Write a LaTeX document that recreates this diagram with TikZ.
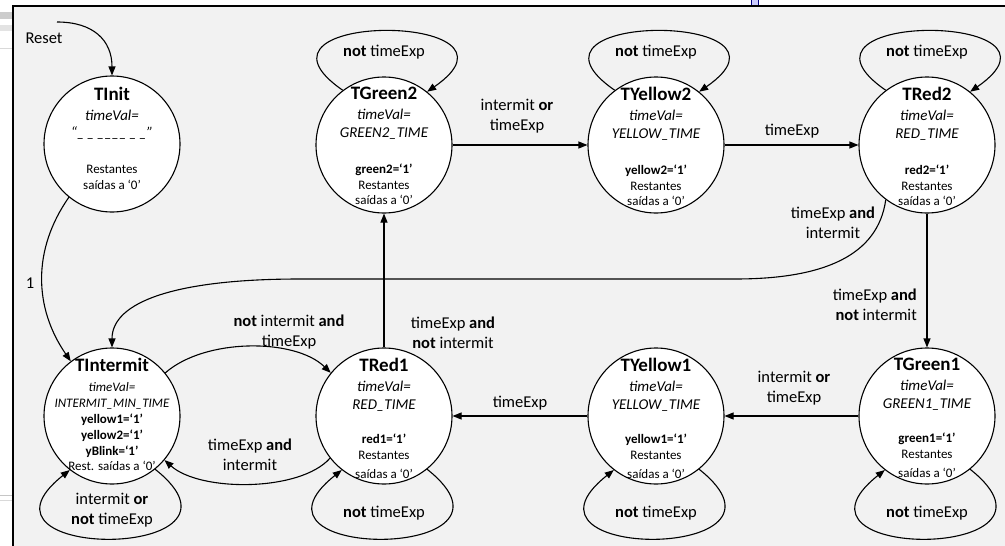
\documentclass[tikz,border=0pt]{standalone}
\usepackage{fontspec}
\setmainfont{Carlito}
\usetikzlibrary{arrows.meta,calc}
\newcommand\sttl[1]{{\fontsize{19}{19}\selectfont\bfseries #1}}
\newcommand\stit[1]{{\fontsize{15}{15}\selectfont\itshape #1}}
\newcommand\stis[1]{{\fontsize{13}{13}\selectfont\itshape #1}}
\begin{document}
\begin{tikzpicture}[x=1pt,y=1pt,
  state/.style={circle,draw,fill=white,minimum size=136pt,inner sep=0pt,line width=1.1pt},
  stxt/.style={align=center,inner sep=0pt,anchor=north,font=\fontsize{13}{15.5}\selectfont},
  edge/.style={draw,line width=1.1pt,-{Triangle[length=9pt,width=7pt]}},
  lbl/.style={align=center,inner sep=0pt,font=\fontsize{16.5}{20}\selectfont},
]
\useasboundingbox (0,0) rectangle (1005,-546);
\fill[white] (0,0) rectangle (1005,-546);
% window chrome at the left
\fill[gray!40] (0,-12) rectangle (13,-19);
\fill[gray!22] (0,-25) rectangle (13,-31);
\draw[gray!30,line width=0.6pt] (0,-48) -- (13,-48);
\draw[gray!45,line width=0.8pt] (0,-495) -- (13,-495);
\draw[gray!30,line width=0.8pt] (0,-500) -- (13,-500);
\fill[blue!20] (751,0) rectangle (758,-6);
\draw[blue!50!black,line width=0.6pt] (751,0) -- (751,-6) (758,0) -- (758,-6);
% panel
\fill[black!5] (13,-6) rectangle (1010,-550);
\draw[line width=2pt] (13,-550) -- (13,-6) -- (1010,-6);

% states
\node[state] (tinit) at (112,-144) {};
\node[state] (tg2) at (384,-145) {};
\node[state] (ty2) at (656,-145) {};
\node[state] (tr2) at (927,-145) {};
\node[state] (tint) at (112,-416) {};
\node[state] (tr1) at (384,-416) {};
\node[state] (ty1) at (656,-416) {};
\node[state] (tg1) at (927,-416) {};

\node[stxt] (tinitT) at (112,-87) {\sttl{TInit}\\[4.5pt]\stit{timeVal=}\\[1.5pt]\stit{“\_\,\_\,\_\_\_\_\,\_\,\_”}\\[20.5pt]Restantes\\saídas a ‘0’};
\node[stxt] (tg2T) at (384,-87) {\sttl{TGreen2}\\[4.5pt]\stit{timeVal=}\\[2.5pt]\stit{GREEN2\_TIME}\\[20.5pt]\textbf{green2=‘1’}\\Restantes\\saídas a ‘0’};
\node[stxt] (ty2T) at (656,-87) {\sttl{TYellow2}\\[4.5pt]\stit{timeVal=}\\[2.5pt]\stit{YELLOW\_TIME}\\[20.5pt]\textbf{yellow2=‘1’}\\Restantes\\saídas a ‘0’};
\node[stxt] (tr2T) at (927,-87) {\sttl{TRed2}\\[4.5pt]\stit{timeVal=}\\[2.5pt]\stit{RED\_TIME}\\[20.5pt]\textbf{red2=‘1’}\\Restantes\\saídas a ‘0’};
\node[stxt] (tintT) at (112,-358) {\sttl{TIntermit}\\[4.5pt]\stis{timeVal=}\\[0.5pt]\stis{INTERMIT\_MIN\_TIME}\\[0.5pt]\textbf{yellow1=‘1’}\\[0.5pt]\textbf{yellow2=‘1’}\\\textbf{yBlink=‘1’}\\Rest. saídas a ‘0’};
\node[stxt] (tr1T) at (384,-358) {\sttl{TRed1}\\[4.5pt]\stit{timeVal=}\\[2.5pt]\stit{RED\_TIME}\\[18.5pt]\textbf{red1=‘1’}\\Restantes\\[3.5pt]saídas a ‘0’};
\node[stxt] (ty1T) at (656,-358) {\sttl{TYellow1}\\[4.5pt]\stit{timeVal=}\\[2.5pt]\stit{YELLOW\_TIME}\\[18.5pt]\textbf{yellow1=‘1’}\\Restantes\\[3.5pt]saídas a ‘0’};
\node[stxt] (tg1T) at (927,-358) {\sttl{TGreen1}\\[4.5pt]\stit{timeVal=}\\[2.5pt]\stit{GREEN1\_TIME}\\[18.5pt]\textbf{green1=‘1’}\\Restantes\\[3.5pt]saídas a ‘0’};

% reset
\coordinate (rs) at (57,-22);
\node[lbl] (rsl) at (44,-38) {Reset};
\draw[edge] (rs) .. controls (93,-22) and (112,-40) .. (tinit.north);

% TInit -> TIntermit
\draw[edge] (tinit.231) .. controls (32,-250) and (34,-308) .. (tint.127);
\node[lbl] (l1) at (30,-283) {1};

% top row
\draw[edge] (tg2) -- (ty2);
\node[lbl] (lg2y2) at (517,-116) {intermit \textbf{or}\\timeExp};
\draw[edge] (ty2) -- (tr2);
\node[lbl] (ly2r2) at (792,-131) {timeExp};

% TRed2 -> TGreen1
\draw[edge] (tr2) -- (tg1);
\node[lbl,align=right,anchor=east] (lr2g1) at (917,-305) {timeExp \textbf{and}\\\textbf{not} intermit};

% TRed2 -> TIntermit
\coordinate (a1) at (735,-279);
\coordinate (a2) at (300,-279);
\draw[edge] (tr2.233) .. controls (878,-255) and (825,-279) .. (a1) -- (a2) .. controls (175,-279) and (112,-302) .. (tint.north);
\node[lbl] (lr2i) at (833,-223) {timeExp \textbf{and}\\intermit};

% bottom row
\draw[edge] (tg1) -- (ty1);
\node[lbl] (lg1y1) at (794,-388) {intermit \textbf{or}\\timeExp};
\draw[edge] (ty1) -- (tr1);
\node[lbl] (ly1r1) at (520,-403) {timeExp};

% TRed1 -> TGreen2
\draw[edge] (tr1) -- (tg2);
\node[lbl] (lr1g2) at (453,-333) {timeExp \textbf{and}\\\textbf{not} intermit};

% TIntermit <-> TRed1
\draw[edge] (tint.39) .. controls (205,-338) and (295,-338) .. (tr1.141);
\node[lbl] (lir1) at (289,-332) {\textbf{not} intermit \textbf{and}\\timeExp};
\draw[edge] (tr1.218) .. controls (300,-492) and (200,-492) .. (tint.320);
\node[lbl] (lr1i) at (250,-455) {timeExp \textbf{and}\\intermit};

% self loops, top
\foreach \n in {tg2,ty2,tr2}{
  \draw[edge] (\n.127) .. controls +(-116,80) and +(116,80) .. (\n.51);
}
\node[lbl] (sg2) at (384,-52) {\textbf{not} timeExp};
\node[lbl] (sy2) at (656,-52) {\textbf{not} timeExp};
\node[lbl] (sr2) at (927,-52) {\textbf{not} timeExp};

% self loops, bottom
\foreach \n in {tint,tr1,ty1,tg1}{
  \draw[edge] (\n.309) .. controls +(116,-92) and +(-116,-92) .. (\n.232);
}
\node[lbl] (si) at (112,-510) {intermit \textbf{or}\\\textbf{not} timeExp};
\node[lbl] (sr1) at (384,-513) {\textbf{not} timeExp};
\node[lbl] (sy1) at (656,-513) {\textbf{not} timeExp};
\node[lbl] (sg1) at (927,-513) {\textbf{not} timeExp};
\end{tikzpicture}
\end{document}
